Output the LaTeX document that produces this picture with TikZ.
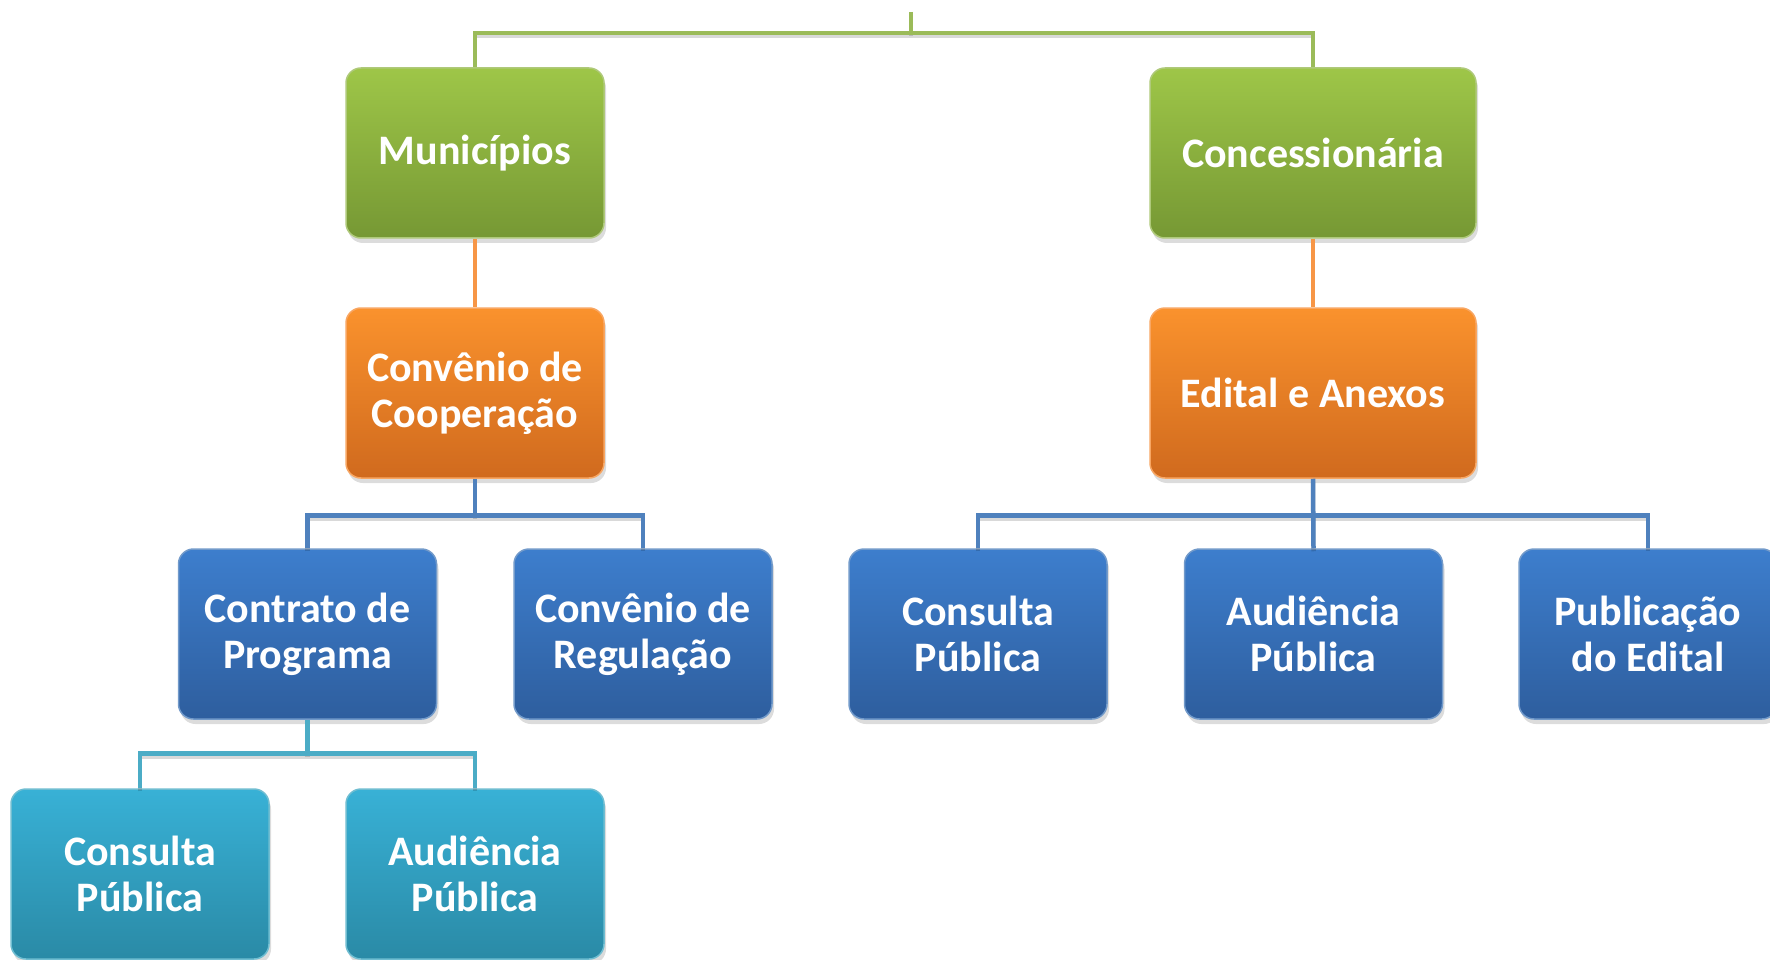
\documentclass[tikz,border=0pt]{standalone}
\usepackage{fontspec}
\setmainfont{Carlito}
\usetikzlibrary{shadows}
\definecolor{gline}{RGB}{155,187,89}
\definecolor{oline}{RGB}{247,150,70}
\definecolor{bline}{RGB}{79,129,189}
\definecolor{tline}{RGB}{75,172,198}
\definecolor{gtop}{RGB}{158,198,72}
\definecolor{gbot}{RGB}{118,152,52}
\definecolor{otop}{RGB}{250,146,45}
\definecolor{obot}{RGB}{208,106,30}
\definecolor{btop}{RGB}{61,126,205}
\definecolor{bbot}{RGB}{46,94,158}
\definecolor{ttop}{RGB}{56,177,214}
\definecolor{tbot}{RGB}{42,138,166}
\tikzset{
  box/.style={rounded corners=15pt, minimum height=170pt, minimum width=258pt,
    align=center, text=white, line width=1.5pt, inner sep=0pt,
    font=\fontsize{42}{46}\selectfont\bfseries,
    drop shadow={shadow xshift=2pt, shadow yshift=-5pt, opacity=0.28}},
  wide/.style={minimum width=326pt},
  gbox/.style={box, draw=gline!80!white, top color=gtop, bottom color=gbot},
  obox/.style={box, draw=oline!85!white, top color=otop, bottom color=obot},
  bbox/.style={box, draw=bline!80!white, top color=btop, bottom color=bbot},
  tbox/.style={box, draw=tline!80!white, top color=ttop, bottom color=tbot},
  conn/.style={line width=4.5pt},
  gconn/.style={conn, draw=gline},
  oconn/.style={conn, draw=oline},
  bconn/.style={conn, draw=bline},
  tconn/.style={conn, draw=tline},
  cshadow/.style={line width=4.5pt, draw=black, opacity=0.15, transform canvas={yshift=-3pt}},
}
\begin{document}
\begin{tikzpicture}[x=1pt,y=-1pt]
\useasboundingbox (0,0) rectangle (1770,960);
% connectors (background)
\coordinate (top) at (911,12);
\coordinate (gbus) at (911,33);
\coordinate (mtop) at (475,68);
\coordinate (ctop) at (1313,68);
\foreach \s in {cshadow, gconn}{
  \draw[\s] (mtop) |- (gbus) -| (ctop);
  \draw[\s] (top) -- (gbus);
}
% nodes
\node[gbox] (mun) at (475,153) {Municípios};
\node[gbox,wide] (con) at (1313,153) {Concessionária};
\node[obox] (cc) at (475,393) {Convênio de\\Cooperação};
\node[obox,wide] (ed) at (1313,393) {Edital e Anexos};
\node[bbox] (cp) at (307.5,634) {Contrato de\\Programa};
\node[bbox] (cr) at (643,634) {Convênio de\\Regulação};
\node[bbox] (cpb) at (978,634) {Consulta\\Pública};
\node[bbox] (apb) at (1313.5,634) {Audiência\\Pública};
\node[bbox] (pe) at (1648,634) {Publicação\\do Edital};
\node[tbox] (tcp) at (140,874) {Consulta\\Pública};
\node[tbox] (tap) at (475,874) {Audiência\\Pública};
% connectors
\draw[oconn] (mun.south) -- (cc.north);
\draw[oconn] (con.south) -- (ed.north);
\foreach \s in {cshadow, bconn}{
  \draw[\s] (cp.north) -- ++(0,-33) -| (cr.north);
  \draw[\s] (cc.south) -- (cc.south |- 0,516);
  \draw[\s] (cpb.north) -- ++(0,-33) -| (pe.north);
  \draw[\s] (ed.south) -- (apb.north);
}
\foreach \s in {cshadow, tconn}{
  \draw[\s] (tcp.north) -- ++(0,-35) -| (tap.north);
  \draw[\s] (cp.south) -- (cp.south |- 0,754);
}
\end{tikzpicture}
\end{document}
